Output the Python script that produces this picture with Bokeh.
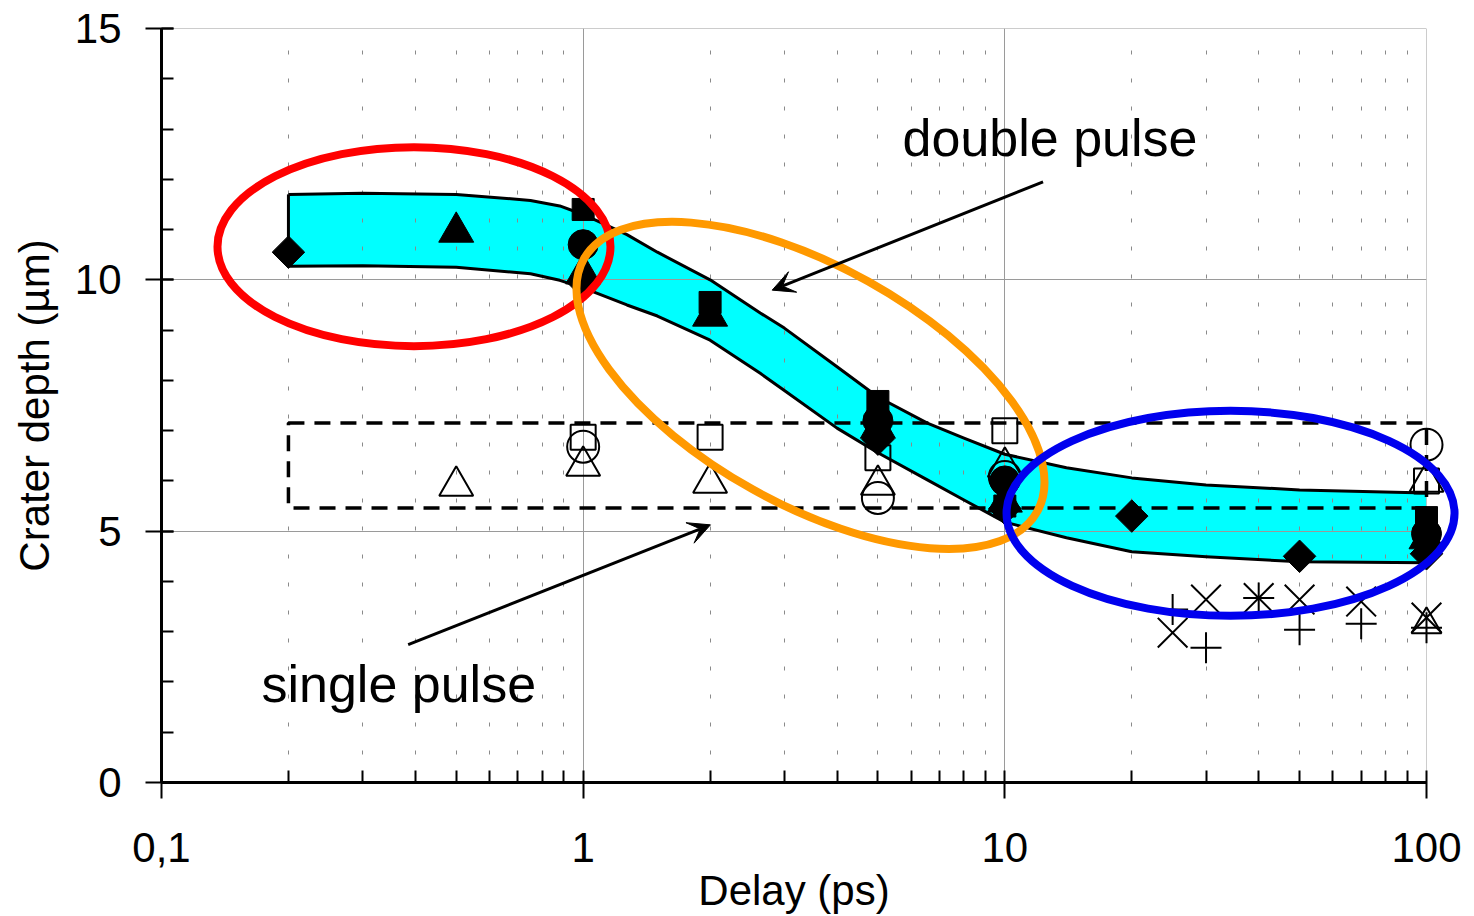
import numpy as np
from bokeh.plotting import figure
from bokeh.models import Range1d, FixedTicker, SingleIntervalTicker, Span, Arrow, VeeHead, Label
from bokeh.embed import file_html
from bokeh.resources import INLINE

# ---------------- data ----------------
# band of the double-pulse results
band_delay = [0.2, 0.3, 0.5, 0.75, 0.88, 1.0, 1.27, 1.5, 2.0, 2.63, 3.0, 4.0, 5.0, 6.55, 8.0, 10, 14, 20, 30, 50, 100]
band_upper = [11.70, 11.72, 11.70, 11.58, 11.47, 11.30, 10.90, 10.55, 10.0, 9.34, 9.04, 8.27, 7.67, 7.15, 6.85, 6.53, 6.26, 6.06, 5.92, 5.82, 5.76]
band_lower = [10.27, 10.28, 10.25, 10.12, 9.99, 9.84, 9.50, 9.28, 8.80, 8.14, 7.80, 7.05, 6.56, 6.02, 5.62, 5.18, 4.87, 4.59, 4.49, 4.39, 4.37]

# double pulse (filled markers)
dp_square_delay = [1, 2, 5, 10, 100]
dp_square_depth = [11.4, 9.55, 7.58, 5.5, 5.27]
dp_circle_delay = [1, 5, 10, 100]
dp_circle_depth = [10.7, 7.2, 6.0, 4.95]
dp_triangle_delay = [0.5, 1, 2, 5, 10, 100]
dp_triangle_depth = [10.95, 10.12, 9.28, 7.05, 5.58, 4.85]
dp_diamond_delay = [0.2, 1, 5, 10, 20, 50, 100]
dp_diamond_depth = [10.55, 9.95, 6.83, 5.45, 5.3, 4.5, 4.55]

# single pulse (open markers)
sp_square_delay = [1, 2, 5, 10, 100]
sp_square_depth = [6.87, 6.87, 6.46, 7.0, 6.0]
sp_circle_delay = [1, 5, 10, 100]
sp_circle_depth = [6.68, 5.66, 6.08, 6.72]
sp_triangle_delay = [0.5, 1, 2, 5, 10, 100]
sp_triangle_depth = [5.9, 6.3, 5.96, 5.92, 6.28, 5.98]

# long-delay series (x, + and open triangle)
x_delay = [25, 30, 40, 50, 70, 100]
x_depth = [2.98, 3.64, 3.67, 3.64, 3.6, 3.28]
plus_delay = [25, 30, 40, 50, 70, 100]
plus_depth = [3.44, 2.68, 3.67, 3.04, 3.16, 3.08]
tri_delay = [100]
tri_depth = [3.14]

# dashed "single pulse" box
box_delay = [0.2, 100]
box_depth = [5.46, 7.15]

x_ticks = [0.1, 1, 10, 100]
x_tick_labels = ["0,1", "1", "10", "100"]
x_minor = [m * d for d in (0.1, 1, 10) for m in range(2, 10)]

FONT = "Liberation Sans"

p = figure(width=1474, height=916, x_axis_type="log",
           x_range=Range1d(0.1, 100), y_range=Range1d(0, 15),
           output_backend="svg", toolbar_location=None,
           min_border_left=161, min_border_right=48, min_border_top=28, min_border_bottom=133)
p.outline_line_color = None
p.background_fill_color = "white"
p.border_fill_color = "white"

# axes
p.xaxis.ticker = FixedTicker(ticks=x_ticks, minor_ticks=x_minor)
p.xaxis.major_label_overrides = {t: l for t, l in zip(x_ticks, x_tick_labels)}
p.yaxis.ticker = SingleIntervalTicker(interval=5, num_minor_ticks=5)
for ax in (p.xaxis[0], p.yaxis[0]):
    ax.axis_line_width = 3
    ax.axis_line_color = "black"
    ax.major_tick_line_width = 2
    ax.minor_tick_line_width = 2
    ax.major_tick_in = 12
    ax.major_tick_out = 16
    ax.minor_tick_in = 12
    ax.minor_tick_out = 0
    ax.major_label_text_font = FONT
    ax.major_label_text_font_size = "42px"
    ax.major_label_text_color = "black"
    ax.axis_label_text_font = FONT
    ax.axis_label_text_font_size = "42px"
    ax.axis_label_text_font_style = "normal"
    ax.axis_label_text_color = "black"
p.xaxis.axis_label = "Delay (ps)"
p.yaxis.axis_label = "Crater depth (µm)"
p.xaxis.major_label_standoff = 34
p.xaxis.axis_label_standoff = 2
p.yaxis.major_label_standoff = 24
p.yaxis.axis_label_standoff = 14

# grids
p.xgrid.grid_line_color = "#9a9a9a"
p.xgrid.grid_line_width = 1
p.xgrid.minor_grid_line_color = "#8a8a8a"
p.xgrid.minor_grid_line_dash = "4 24"
p.xgrid.minor_grid_line_width = 1
p.ygrid.grid_line_color = "#9a9a9a"
p.ygrid.grid_line_width = 1
for sp in (Span(location=15, dimension="width"), Span(location=100, dimension="height")):
    sp.line_color = "#9a9a9a"
    sp.line_width = 1
    sp.level = "underlay"
    p.add_layout(sp)

# band
p.varea(x=band_delay, y1=band_lower, y2=band_upper, fill_color="#00ffff", level="image")
p.line(band_delay, band_upper, line_color="black", line_width=3, line_join="round", level="annotation")
p.line(band_delay, band_lower, line_color="black", line_width=3, line_join="round", level="annotation")
p.segment(x0=[band_delay[0]], y0=[band_lower[0]], x1=[band_delay[0]], y1=[band_upper[0]],
          line_color="black", line_width=3, level="annotation")

# dashed box
p.quad(left=[box_delay[0]], right=[box_delay[1]], bottom=[box_depth[0]], top=[box_depth[1]],
       fill_alpha=0, line_color="black", line_width=3.5, line_dash="16 10", level="annotation")

# open markers
op = dict(fill_alpha=0, line_color="black", line_width=2, level="annotation")
p.scatter(sp_square_delay, sp_square_depth, marker="square", size=25, **op)
p.scatter(sp_circle_delay, sp_circle_depth, marker="circle", size=32, **op)
p.scatter(sp_triangle_delay, sp_triangle_depth, marker="triangle", size=34, **op)
p.scatter(tri_delay, tri_depth, marker="triangle", size=30, **op)
p.scatter(x_delay, x_depth, marker="x", size=42, **op)
p.scatter(plus_delay, plus_depth, marker="cross", size=31, **op)

# filled markers
fp = dict(fill_color="black", line_color="black", line_width=1, level="annotation")
p.scatter(dp_square_delay, dp_square_depth, marker="square", size=22, **fp)
p.scatter(dp_circle_delay, dp_circle_depth, marker="circle", size=30, **fp)
p.scatter(dp_triangle_delay, dp_triangle_depth, marker="triangle", size=35, **fp)
p.scatter(dp_diamond_delay, dp_diamond_depth, marker="square", angle=np.pi / 4, size=23, **fp)

# ellipses
p.ellipse(x=[0.397], y=[10.66], width=[393], height=[199], width_units="screen", height_units="screen",
          fill_alpha=0, line_color="#ff0000", line_width=8, level="annotation")
p.ellipse(x=[3.46], y=[7.90], width=[519], height=[238], angle=[-0.508], width_units="screen",
          height_units="screen", fill_alpha=0, line_color="#ff9900", line_width=8, level="annotation")
p.ellipse(x=[34.3], y=[5.355], width=[448], height=[205], width_units="screen", height_units="screen",
          fill_alpha=0, line_color="#0000ee", line_width=8, level="annotation")

# arrows and texts
p.add_layout(Arrow(end=VeeHead(size=22, fill_color="black", line_color="black"),
                   x_start=12.32, y_start=11.95, x_end=2.807, y_end=9.795, line_width=3, line_color="black"))
p.add_layout(Arrow(end=VeeHead(size=22, fill_color="black", line_color="black"),
                   x_start=0.3846, y_start=2.742, x_end=2.004, y_end=5.126, line_width=3, line_color="black"))
p.add_layout(Label(x=5.72, y=12.82, text="double pulse", text_font=FONT, text_font_size="52px",
                   text_color="black", text_baseline="alphabetic"))
p.add_layout(Label(x=0.1726, y=1.95, text="single pulse", text_font=FONT, text_font_size="52px",
                   text_color="black", text_baseline="alphabetic"))

open("out.html", "w").write(file_html(p, INLINE))
